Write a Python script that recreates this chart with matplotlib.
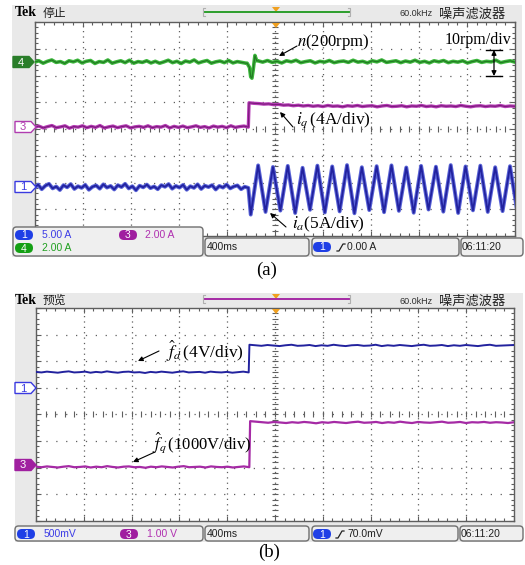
import numpy as np
import matplotlib
matplotlib.use("Agg")
import matplotlib.pyplot as plt
from matplotlib.patches import Rectangle, FancyBboxPatch, Polygon
from matplotlib.ticker import MultipleLocator

plt.rcParams['font.family'] = ['Liberation Serif', 'DejaVu Sans']
plt.rcParams['mathtext.fontset'] = 'stix'

# ---------------- recorded traces (time in s, 400 ms/div; amplitude in divisions) ----------------
T_END = 4.0

# (a) speed n, channel 4
n_pre = [2.50, 2.55, 2.46, 2.53, 2.58, 2.49, 2.52, 2.45, 2.55, 2.51, 2.57, 2.47, 2.53, 2.56, 2.45,
         2.52, 2.49, 2.58, 2.46, 2.51, 2.55, 2.48, 2.57, 2.46, 2.52, 2.49, 2.55, 2.47, 2.53, 2.46,
         2.51, 2.57, 2.48, 2.53, 2.45, 2.54, 2.50, 2.58, 2.47, 2.52, 2.56, 2.46, 2.51, 2.54, 2.48,
         2.56, 2.47, 2.52, 2.49, 2.46]
n_step_t = [1.77, 1.79, 1.80, 1.81, 1.82, 1.835, 1.85]
n_step = [2.46, 2.30, 1.95, 1.90, 2.20, 2.75, 2.55]
n_post = [2.55, 2.50, 2.56, 2.49, 2.53, 2.47, 2.55, 2.51, 2.57, 2.48, 2.52, 2.55, 2.47, 2.53, 2.50,
          2.56, 2.48, 2.52, 2.54, 2.49, 2.57, 2.50, 2.53, 2.47, 2.55, 2.51, 2.58, 2.49, 2.52, 2.55,
          2.48, 2.54, 2.50, 2.57, 2.49, 2.53, 2.47, 2.55, 2.51, 2.56, 2.48, 2.53, 2.50, 2.55, 2.47,
          2.52, 2.56, 2.49, 2.53, 2.51, 2.57, 2.48, 2.52, 2.55, 2.50]

# (a) q-axis current iq, channel 3
iq_pre = [0.06, 0.11, 0.04, 0.09, 0.13, 0.05, 0.08, 0.12, 0.03, 0.09, 0.07, 0.12, 0.05, 0.10, 0.06,
          0.13, 0.04, 0.08, 0.11, 0.05, 0.09, 0.12, 0.04, 0.08, 0.10, 0.06, 0.12, 0.05, 0.09, 0.07,
          0.13, 0.04, 0.10, 0.06, 0.11, 0.05, 0.08, 0.12, 0.06, 0.09, 0.04, 0.11, 0.07, 0.10, 0.05,
          0.12, 0.06, 0.09, 0.11, 0.07]
iq_post = [0.98, 0.96, 0.95, 0.93, 0.94, 0.91, 0.92, 0.89, 0.90, 0.87, 0.89, 0.86, 0.88, 0.85, 0.87,
           0.84, 0.88, 0.85, 0.86, 0.83, 0.87, 0.85, 0.88, 0.84, 0.86, 0.87, 0.83, 0.86, 0.88, 0.84,
           0.85, 0.87, 0.83, 0.86, 0.85, 0.88, 0.84, 0.86, 0.83, 0.87, 0.85, 0.86, 0.84, 0.88, 0.85,
           0.83, 0.86, 0.87, 0.84, 0.86, 0.85, 0.88, 0.84, 0.86, 0.85]

# (a) phase current ia, channel 1 (post-step values are successive troughs/peaks)
ia_pre = [-2.20, -2.08, -2.25, -2.12, -2.05, -2.22, -2.15, -2.28, -2.10, -2.18, -2.06, -2.24, -2.14,
          -2.20, -2.09, -2.27, -2.16, -2.11, -2.23, -2.07, -2.19, -2.13, -2.26, -2.10, -2.17, -2.05,
          -2.22, -2.14, -2.29, -2.12, -2.18, -2.08, -2.21, -2.15, -2.25, -2.10, -2.16, -2.06, -2.23,
          -2.13, -2.19, -2.09, -2.27, -2.14, -2.20, -2.07, -2.24, -2.12, -2.17, -2.10, -2.26, -2.13,
          -2.19, -2.08, -2.22, -2.15, -2.11, -2.25, -2.16, -2.20]
ia_post = [-3.20, -1.36, -3.10, -1.42, -3.05, -1.38, -3.14, -1.45, -3.02, -1.37, -3.12, -1.40, -3.08,
           -1.35, -3.15, -1.43, -3.03, -1.39, -3.11, -1.36, -3.06, -1.44, -3.13, -1.38, -3.01, -1.41,
           -3.09, -1.35, -3.14, -1.40, -3.04, -1.37, -3.10, -1.43, -3.07, -1.39, -3.12]

# (b) estimated disturbance fd, channel 1
fd_pre = [1.60, 1.58, 1.61, 1.59, 1.57, 1.60, 1.62, 1.58, 1.59, 1.61, 1.57, 1.60, 1.58, 1.62, 1.59,
          1.57, 1.60, 1.61, 1.58, 1.59, 1.56, 1.60, 1.58, 1.61, 1.59, 1.57, 1.60, 1.62, 1.58, 1.59,
          1.60, 1.57, 1.61, 1.59, 1.58, 1.60, 1.57, 1.59, 1.61, 1.58]
fd_post = [2.62, 2.60, 2.58, 2.61, 2.59, 2.57, 2.60, 2.62, 2.58, 2.59, 2.61, 2.57, 2.60, 2.58, 2.62,
           2.59, 2.57, 2.60, 2.61, 2.58, 2.59, 2.62, 2.57, 2.60, 2.58, 2.61, 2.59, 2.57, 2.60, 2.62,
           2.58, 2.59, 2.61, 2.57, 2.60, 2.58, 2.61, 2.59, 2.57, 2.60, 2.62, 2.58, 2.59, 2.60, 2.61]

# (b) estimated disturbance fq, channel 3
fq_pre = [-1.96, -1.98, -1.95, -1.97, -1.99, -1.96, -1.94, -1.98, -1.97, -1.95, -1.99, -1.96, -1.98,
          -1.94, -1.97, -1.99, -1.96, -1.95, -1.98, -1.97, -2.00, -1.96, -1.98, -1.95, -1.97, -1.99,
          -1.96, -1.94, -1.98, -1.97, -1.96, -1.99, -1.95, -1.97, -1.98, -1.96, -1.99, -1.97, -1.95,
          -1.98]
fq_post = [-0.25, -0.27, -0.29, -0.31, -0.28, -0.30, -0.32, -0.29, -0.31, -0.28, -0.30, -0.33, -0.29,
           -0.31, -0.28, -0.30, -0.32, -0.29, -0.27, -0.31, -0.30, -0.28, -0.32, -0.29, -0.31, -0.27,
           -0.30, -0.32, -0.28, -0.30, -0.31, -0.29, -0.27, -0.31, -0.30, -0.28, -0.32, -0.29, -0.30,
           -0.28, -0.31, -0.29, -0.30, -0.32, -0.29]

# ---------------- figure ----------------
W, H = 525, 565
fig = plt.figure(figsize=(W / 100, H / 100), dpi=100)


def px_rect(x0, y0, x1, y1):
    return [x0 / W, 1 - y1 / H, (x1 - x0) / W, (y1 - y0) / H]


bg = fig.add_axes([0, 0, 1, 1], zorder=0)
bg.set_xlim(0, W)
bg.set_ylim(H, 0)
bg.axis('off')

ov = fig.add_axes([0, 0, 1, 1], zorder=5)
ov.set_xlim(0, W)
ov.set_ylim(H, 0)
ov.axis('off')
ov.patch.set_alpha(0)

SCREEN = '#e9e9e9'
GRID = '#5e5e5e'

# screen backgrounds
bg.add_patch(Rectangle((12, 5), 510, 252, facecolor=SCREEN, edgecolor='none'))
bg.add_patch(Rectangle((15, 293), 508, 249, facecolor=SCREEN, edgecolor='none'))


def graticule(ax):
    ax.set_xlim(0, T_END)
    ax.set_ylim(-4, 4)
    ax.set_facecolor('white')
    for s in ax.spines.values():
        s.set_color(GRID)
        s.set_linewidth(1.0)
    ax.xaxis.set_major_locator(MultipleLocator(0.4))
    ax.xaxis.set_minor_locator(MultipleLocator(0.08))
    ax.yaxis.set_major_locator(MultipleLocator(1))
    ax.yaxis.set_minor_locator(MultipleLocator(0.2))
    ax.tick_params(which='both', direction='in', top=True, right=True,
                   labelbottom=False, labelleft=False, colors=GRID)
    ax.tick_params(which='major', length=3.5, width=0.8)
    ax.tick_params(which='minor', length=2.5, width=0.8)
    for k in range(1, 10):
        ax.axvline(k * 0.4, color=GRID, lw=0.9, ls=(0, (1, 3.3)), zorder=1)
    for k in range(-3, 4):
        ax.axhline(k, color=GRID, lw=0.9, ls=(0, (1, 6.9)), zorder=1)
    yt = np.arange(-4, 4.001, 0.2)
    ax.plot(np.full_like(yt, 2.0), yt, ls='none', marker='_', ms=5, mew=0.8, color=GRID, zorder=1)
    xt = np.arange(0, 4.001, 0.08)
    ax.plot(xt, np.zeros_like(xt), ls='none', marker='|', ms=5, mew=0.8, color=GRID, zorder=1)


ax_a = fig.add_axes(px_rect(34.5, 22, 515, 236), zorder=2)
ax_b = fig.add_axes(px_rect(36, 308, 514, 521), zorder=2)
graticule(ax_a)
graticule(ax_b)


def seg(t0, t1, vals):
    return np.linspace(t0, t1, len(vals)), np.asarray(vals)


GREEN = '#2c9e2c'
PURPLE = '#a52aa5'
BLUE = '#22229e'

# speed trace
t1, v1 = seg(0.0, 1.76, n_pre)
t3, v3 = seg(1.86, T_END, n_post)
tn, vn = np.concatenate([t1, n_step_t, t3]), np.concatenate([v1, n_step, v3])
ax_a.plot(tn, vn, color='#3cb83c', lw=2.6, zorder=3)
ax_a.plot(tn, vn, color='#237a23', lw=0.9, zorder=3)
# iq trace
t1, v1 = seg(0.0, 1.78, iq_pre)
t2, v2 = seg(1.786, T_END, iq_post)
tq, vq = np.concatenate([t1, t2]), np.concatenate([v1, v2])
ax_a.plot(tq, vq, color='#b63cb6', lw=2.4, zorder=3)
ax_a.plot(tq, vq, color='#7a1a7a', lw=0.8, zorder=3)
# ia trace
t1, v1 = seg(0.0, 1.78, ia_pre)
t2, v2 = seg(1.80, 4.02, ia_post)
ta, va = np.concatenate([t1, t2]), np.concatenate([v1, v2])
ax_a.plot(ta, va, color='#5a64d8', lw=2.8, zorder=3)
ax_a.plot(ta, va, color=BLUE, lw=1.3, zorder=3)

# fd trace
t1, v1 = seg(0.0, 1.78, fd_pre)
t2, v2 = seg(1.786, T_END, fd_post)
ax_b.plot(np.concatenate([t1, t2]), np.concatenate([v1, v2]), color=BLUE, lw=1.4, zorder=3)
# fq trace
t1, v1 = seg(0.0, 1.785, fq_pre)
t2, v2 = seg(1.792, T_END, fq_post)
ax_b.plot(np.concatenate([t1, t2]), np.concatenate([v1, v2]), color=PURPLE, lw=1.6, zorder=3)

# ---------------- screen furniture ----------------
ORANGE = '#f0a020'


def top_bar(y, title, bar_color):
    ov.text(15, y, 'Tek', fontsize=10, fontweight='bold', ha='left', va='center',
            family=['Liberation Serif'])
    ov.text(43, y, title, fontsize=8.5, ha='left', va='center', family=['Noto Sans CJK SC'],
            color='#202020')
    ov.plot([205, 349], [y - 1, y - 1], color=bar_color, lw=1.4)
    ov.plot([205, 203, 203, 205], [y - 5, y - 5, y + 3, y + 3], color='#b0b0b0', lw=0.8)
    ov.plot([348, 350, 350, 348], [y - 5, y - 5, y + 3, y + 3], color='#b0b0b0', lw=0.8)
    ov.add_patch(Polygon([[272, y - 6], [280, y - 6], [276, y - 1]], closed=True,
                         facecolor=ORANGE, edgecolor='none'))
    ov.text(400, y + 1, '60.0kHz', fontsize=6.5, ha='left', va='center',
            family=['Liberation Sans'], color='#303030')
    ov.text(439, y + 1, '噪声滤波器', fontsize=9.5, ha='left', va='center',
            family=['Noto Sans CJK SC'], color='#202020')


top_bar(13, '停止', GREEN)
top_bar(300, '预览', PURPLE)

for ytop in (22, 308):
    ov.add_patch(Polygon([[272, ytop + 1], [280, ytop + 1], [276, ytop + 6]], closed=True,
                         facecolor=ORANGE, edgecolor='none'))


def tag(yc, label, color, filled, x0=13):
    pts = [[x0, yc - 5.5], [x0 + 16, yc - 5.5], [x0 + 21, yc], [x0 + 16, yc + 5.5], [x0, yc + 5.5]]
    ov.add_patch(Polygon(pts, closed=True, facecolor=color if filled else 'white',
                         edgecolor=color, lw=1.0))
    ov.text(x0 + 8, yc + 0.5, label, fontsize=8, ha='center', va='center',
            family=['Liberation Sans'], color='white' if filled else color)


tag(62, '4', '#2a7e2a', True)
tag(127, '3', '#b03cb0', False, x0=15)
tag(187, '1', '#3a3ae0', False, x0=15)
tag(388, '1', '#3a3ae0', False, x0=15)
tag(465, '3', '#a020a0', True, x0=15)


def box(x0, y0, x1, y1):
    ov.add_patch(FancyBboxPatch((x0, y0), x1 - x0, y1 - y0,
                                boxstyle='round,pad=0,rounding_size=3.5',
                                facecolor='#efefef', edgecolor='#6e6e6e', lw=1.0))


def pill(xc, yc, label, color):
    ov.add_patch(FancyBboxPatch((xc - 9, yc - 5), 18, 10, boxstyle='round,pad=0,rounding_size=5',
                                facecolor=color, edgecolor='none'))
    ov.text(xc, yc + 0.5, label, fontsize=7.5, ha='center', va='center',
            family=['Liberation Sans'], color='white')


def readout(x, y, s, color='#202020'):
    ov.text(x, y, s, fontsize=7.5, ha='left', va='center', family=['Liberation Sans'], color=color)


def edge_icon(x, y):
    ov.plot([x, x + 2, x + 6, x + 8], [y + 4, y + 4, y - 3, y - 3], color='#202020', lw=0.9)


PILL_BLUE = '#1f3fe6'
PILL_PURPLE = '#a01ea0'
PILL_GREEN = '#14a014'

# (a) readouts
box(13, 227, 203, 256)
pill(24, 235, '1', PILL_BLUE)
readout(42, 235, '5.00 A', '#3c3ce6')
pill(128, 235, '3', PILL_PURPLE)
readout(145, 235, '2.00 A', '#b030b0')
pill(24, 248, '4', PILL_GREEN)
readout(42, 248, '2.00 A', '#20a020')
box(205, 238, 309, 256)
readout(207, 247, '400ms')
box(312, 238, 459, 256)
pill(322, 247, '1', PILL_BLUE)
edge_icon(337, 247)
readout(347, 247, '0.00 A')
box(461, 238, 523, 256)
readout(462, 247, '06:11:20')

# (b) readouts
box(15, 526, 203, 541)
pill(26, 534, '1', PILL_BLUE)
readout(44, 534, '500mV', '#3c3ce6')
pill(129, 534, '3', PILL_PURPLE)
readout(147, 534, '1.00 V', '#b030b0')
box(205, 526, 309, 541)
readout(207, 534, '400ms')
box(312, 526, 458, 541)
pill(322, 534, '1', PILL_BLUE)
edge_icon(336, 534)
readout(347, 534, '70.0mV')
box(460, 526, 523, 541)
readout(461, 534, '06:11:20')

# ---------------- trace annotations ----------------
ARW = dict(arrowstyle='-|>', color='black', lw=0.8, mutation_scale=7, shrinkA=0, shrinkB=0)
ov.annotate('', xy=(279, 56), xytext=(297, 46), arrowprops=ARW)
ov.text(297, 42, r'$n$(200rpm)', fontsize=12, ha='left', va='center')
ov.text(445, 40, '10rpm/div', fontsize=11.5, ha='left', va='center')
ov.plot([486, 502], [50, 50], color='black', lw=1.0)
ov.plot([486, 502], [76, 76], color='black', lw=1.0)
ov.annotate('', xy=(494, 50), xytext=(494, 76),
            arrowprops=dict(arrowstyle='<|-|>', color='black', lw=0.9, mutation_scale=7,
                            shrinkA=0, shrinkB=0))
ov.annotate('', xy=(280, 112), xytext=(293, 127), arrowprops=ARW)
ov.text(296, 120, r'$i_q\,$(4A/div)', fontsize=12.5, ha='left', va='center')
ov.annotate('', xy=(270, 213), xytext=(286, 227), arrowprops=ARW)
ov.text(292, 224, r'$i_a$(5A/div)', fontsize=12.5, ha='left', va='center')
ov.annotate('', xy=(138, 361), xytext=(159, 351), arrowprops=ARW)
ov.text(166, 351, r'$\hat{f}_d\,$(4V/div)', fontsize=12.5, ha='left', va='center')
ov.annotate('', xy=(133, 462), xytext=(155, 452), arrowprops=ARW)
ov.text(152, 443, r'$\hat{f}_q\,$(1000V/div)', fontsize=12, ha='left', va='center')

# panel captions
ov.text(267, 270, '(a)', fontsize=13.5, ha='center', va='center')
ov.text(269, 552, '(b)', fontsize=13.5, ha='center', va='center')

fig.savefig('out.png', dpi=100)
